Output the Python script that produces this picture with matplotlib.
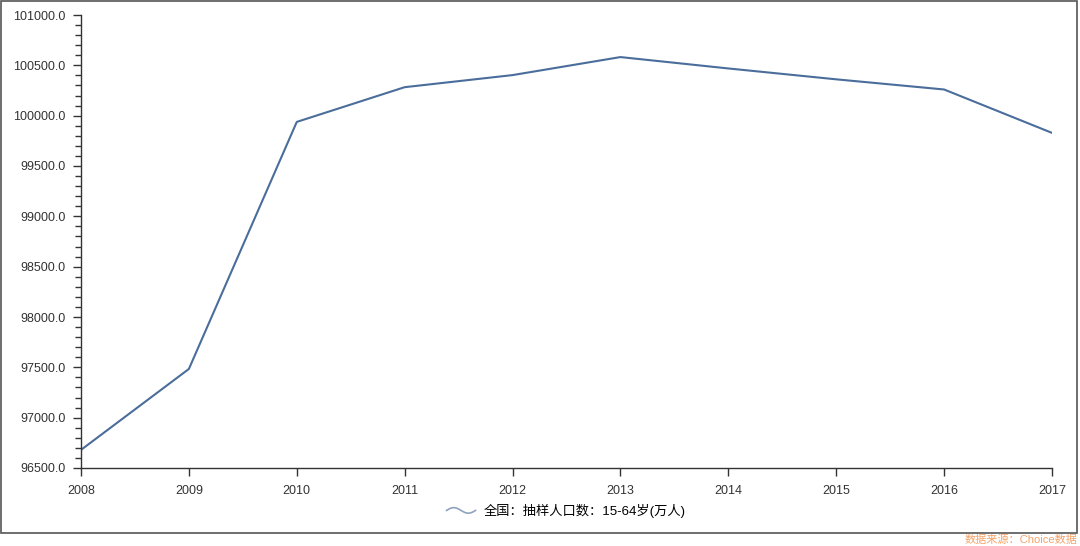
import numpy as np
import matplotlib
matplotlib.use('Agg')
import matplotlib.pyplot as plt
from matplotlib.legend_handler import HandlerLine2D
from matplotlib.lines import Line2D
from matplotlib.patches import Rectangle

plt.rcParams['font.family'] = ['Liberation Sans', 'Noto Sans CJK SC', 'DejaVu Sans']

years = [2008, 2009, 2010, 2011, 2012, 2013, 2014, 2015, 2016, 2017]
pop_15_64 = [96680, 97484, 99938, 100283, 100403, 100582, 100469, 100361, 100260, 99829]
series_name = '全国：抽样人口数：15-64岁(万人)'
source_text = '数据来源：Choice数据'

line_color = '#4a6d9b'
axis_color = '#333333'


class WaveHandler(HandlerLine2D):
    def create_artists(self, legend, orig_handle, xdescent, ydescent,
                       width, height, fontsize, trans):
        t = np.linspace(0, 1, 40)
        xs = -xdescent + t * width
        ys = -ydescent + height / 2 + np.sin(t * 2 * np.pi) * height * 0.3
        ln = Line2D(xs, ys, color='#8fa3bd', lw=1.2)
        ln.set_transform(trans)
        return [ln]


fig = plt.figure(figsize=(10.8, 5.46), dpi=100)
ax = fig.add_axes([81 / 1080, 1 - 468 / 546, (1052 - 81) / 1080, (468 - 15) / 546])

ln, = ax.plot(years, pop_15_64, color=line_color, lw=1.5, label=series_name)

ax.set_xlim(2008, 2017)
ax.set_ylim(96500, 101000)
ax.set_xticks(years)
ax.set_yticks(np.arange(96500, 101001, 500))
ax.set_yticks(np.arange(96500, 101001, 100), minor=True)
ax.yaxis.set_major_formatter(matplotlib.ticker.FormatStrFormatter('%.1f'))

for s in ['top', 'right']:
    ax.spines[s].set_visible(False)
for s in ['left', 'bottom']:
    ax.spines[s].set_color(axis_color)
    ax.spines[s].set_linewidth(1)
ax.tick_params(axis='both', which='major', colors=axis_color, labelsize=9, length=6, width=1)
ax.tick_params(axis='y', which='minor', colors=axis_color, length=4, width=1)
ax.tick_params(axis='x', pad=6)
ax.tick_params(axis='y', pad=5)

fig.legend(handles=[ln], loc='center', bbox_to_anchor=(566 / 1080, 1 - 511 / 546),
           frameon=False, fontsize=9.5, handler_map={ln: WaveHandler()},
           handlelength=2.2, handletextpad=0.6)

# outer frame
fig.patches.append(Rectangle((0.5 / 1080, 1 - 533 / 546), 1076 / 1080, 532 / 546,
                             transform=fig.transFigure, fill=False,
                             edgecolor='#555555', lw=1.2))

fig.text(1077 / 1080, 1 - 540 / 546, source_text, ha='right', va='center',
         fontsize=8, color='#f5a36a')

fig.savefig('out.png', dpi=100)
